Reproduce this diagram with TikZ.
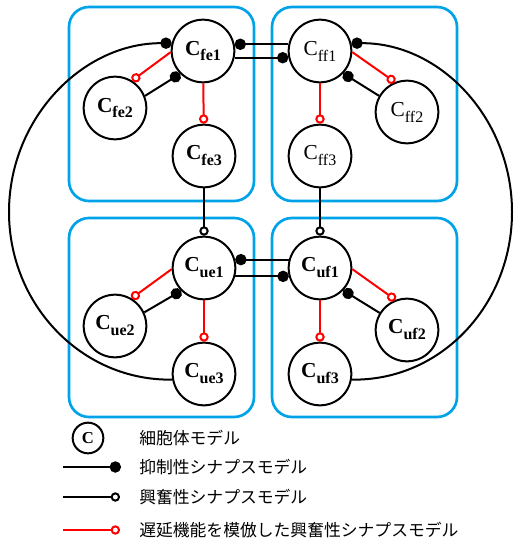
\documentclass[tikz,border=0pt]{standalone}
\usepackage{fontspec}
\setmainfont{Liberation Serif}
\newfontfamily\jpfont{Noto Sans CJK JP}
\usepackage{tikz}
\usetikzlibrary{arrows.meta}
\definecolor{boxblue}{RGB}{0,162,232}
\newcommand{\cname}[1]{C\raisebox{-0.28em}{\fontsize{12}{12}\selectfont #1}}

\begin{document}
\begin{tikzpicture}[x=0.75pt,y=0.75pt,yscale=-1,
    cell/.style={circle,draw,line width=1.5pt,minimum size=47pt,inner sep=0pt,
      font=\fontsize{16}{16}\selectfont\bfseries},
    cellff/.style={cell,font=\fontsize{16}{16}\selectfont\mdseries},
    inh/.style={line width=1.5pt,-{Circle[length=8.5pt,width=8.5pt]}},
    exc/.style={line width=1.5pt,-{Circle[open,length=7pt,width=7pt]}},
    dly/.style={exc,red},
    group/.style={draw=boxblue,line width=2pt,rounded corners=15pt},
    legendtext/.style={anchor=west,inner sep=0pt,font=\jpfont\fontsize{12.6}{14}\selectfont}]
        \useasboundingbox (0,0) rectangle (514,542);

        % groups
        \draw[group] (69,7) rectangle (254,201);
        \draw[group] (272,7) rectangle (457,201);
        \draw[group] (69,218) rectangle (254,417);
        \draw[group] (272,218) rectangle (457,417);

        % cells
        \node[cell] (fe1) at (203,51) {\cname{fe1}};
        \node[cell] (fe2) at (115,108) {\cname{fe2}};
        \node[cell] (fe3) at (204,156) {\cname{fe3}};
        \node[cellff] (ff1) at (320,51) {\cname{ff1}};
        \node[cellff] (ff2) at (407,112) {\cname{ff2}};
        \node[cellff] (ff3) at (320,156) {\cname{ff3}};
        \node[cell] (ue1) at (204,268) {\cname{ue1}};
        \node[cell] (ue2) at (115,326) {\cname{ue2}};
        \node[cell] (ue3) at (204,374) {\cname{ue3}};
        \node[cell] (uf1) at (320,268) {\cname{uf1}};
        \node[cell] (uf2) at (407,330) {\cname{uf2}};
        \node[cell] (uf3) at (320,374) {\cname{uf3}};

        % inside the groups
        \draw[dly] (fe1.182) -- (fe2.58);
        \draw[inh] (fe2.22) -- (fe1.225);
        \draw[dly] (fe1) -- (fe3);
        \draw[dly] (ff1.358) -- (ff2.112);
        \draw[inh] (ff2.150) -- (ff1.316);
        \draw[dly] (ff1) -- (ff3);
        \draw[dly] (ue1.182) -- (ue2.59);
        \draw[inh] (ue2.25) -- (ue1.225);
        \draw[dly] (ue1) -- (ue3);
        \draw[dly] (uf1.358) -- (uf2.111);
        \draw[inh] (uf2.148) -- (uf1.316);
        \draw[dly] (uf1) -- (uf3);

        % between the groups
        \draw[inh] (ff1.168) -- (fe1.12);
        \draw[inh] (fe1.-12) -- (ff1.192);
        \draw[inh] (uf1.165) -- (ue1.15);
        \draw[inh] (ue1.-15) -- (uf1.195);
        \draw[exc] (fe3) -- (ue1);
        \draw[exc] (ff3) -- (uf1);

        % long loops
        \coordinate (lft) at (9,212);
        \coordinate (rgt) at (512,212);
        \draw[inh] (ue3.190) .. controls (82,381) and (9,305) .. (lft) .. controls (9,119) and (82,43) .. (fe1.166);
        \draw[inh] (uf3.350) .. controls (441,381) and (512,305) .. (rgt) .. controls (512,119) and (441,43) .. (ff1.14);

        % legend
        \node[cell,minimum size=23pt,font=\fontsize{12.5}{12.5}\selectfont\bfseries] (lc) at (88,438) {C};
        \node[legendtext] (t1) at (139,438) {細胞体モデル};
        \coordinate (a2) at (63,467);
        \coordinate (b2) at (121,467);
        \draw[inh] (a2) -- (b2);
        \node[legendtext] (t2) at (139,467) {抑制性シナプスモデル};
        \coordinate (a3) at (63,497);
        \coordinate (b3) at (120,497);
        \draw[exc] (a3) -- (b3);
        \node[legendtext] (t3) at (139,497) {興奮性シナプスモデル};
        \coordinate (a4) at (63,530);
        \coordinate (b4) at (120,530);
        \draw[dly] (a4) -- (b4);
        \node[legendtext] (t4) at (139,530) {遅延機能を模倣した興奮性シナプスモデル};
\end{tikzpicture}
\end{document}
